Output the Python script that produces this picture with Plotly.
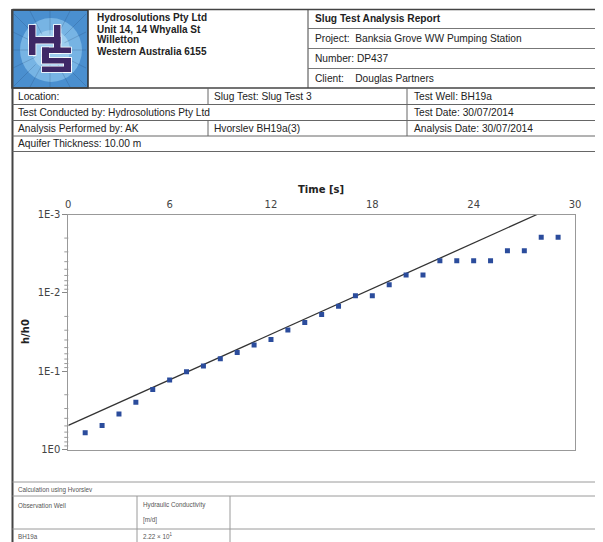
import math
import plotly.graph_objects as go

# ---------------- data ----------------
time_s = list(range(1, 30))
h_ratio = [0.612, 0.494, 0.352, 0.249, 0.172, 0.130, 0.1016, 0.0861, 0.0693, 0.0577,
           0.0465, 0.0394, 0.0299, 0.0239, 0.0189, 0.0148, 0.0109, 0.0109, 0.0079, 0.0059,
           0.0059, 0.0039, 0.0039, 0.0039, 0.0039, 0.0029, 0.0029, 0.00195, 0.00195]
fit_time = [0, 27.75]
fit_h = [0.493, 0.001]
x_ticks = [0, 6, 12, 18, 24, 30]
y_tickvals = [0.001, 0.01, 0.1, 1]
y_ticktext = ["1E-3", "1E-2", "1E-1", "1E0"]

W, H = 603, 542
OFF = 8  # page body margin offset

# plot-area pixel box
PL, PR, PT, PB = 68.3, 575, 214.5, 449.5


def X(px):
    return (px - OFF) / W


def Y(py):
    return 1 - (py - OFF) / H


shapes = []
annotations = []


def line(x0, y0, x1, y1, color="#555", width=1):
    shapes.append(dict(type="line", xref="paper", yref="paper",
                       x0=X(x0), y0=Y(y0), x1=X(x1), y1=Y(y1),
                       line=dict(color=color, width=width), layer="above"))


def rect(x0, y0, x1, y1, fill, lc=None, lw=0, layer="above"):
    shapes.append(dict(type="rect", xref="paper", yref="paper",
                       x0=X(x0), y0=Y(y0), x1=X(x1), y1=Y(y1),
                       fillcolor=fill, line=dict(color=lc or fill, width=lw), layer=layer))


def text(x, y, s, size=10, bold=False, color="#222", anchor="left",
         family="Liberation Sans, Arial, sans-serif", angle=0):
    annotations.append(dict(xref="paper", yref="paper", x=X(x), y=Y(y),
                            text=f"<b>{s}</b>" if bold else s, showarrow=False,
                            xanchor=anchor, yanchor="middle", textangle=angle,
                            font=dict(size=size, color=color, family=family)))


# ---------------- logo ----------------
rect(12, 10, 88, 88, "#4a8fcf", "#2b2b2b", 1.5)
shapes.append(dict(type="circle", xref="paper", yref="paper",
                   x0=X(20), y0=Y(18), x1=X(82), y1=Y(82),
                   fillcolor="rgba(150,205,242,0.6)", line=dict(width=0), layer="above"))
shapes.append(dict(type="circle", xref="paper", yref="paper",
                   x0=X(32), y0=Y(30), x1=X(70), y1=Y(70),
                   fillcolor="rgba(195,230,250,0.5)", line=dict(width=0), layer="above"))
cx, cy = 50, 50
for ex, ey in [(14, 14), (30, 11), (50, 11), (70, 11), (86, 14), (86, 32), (86, 50),
               (86, 68), (86, 86), (70, 87), (50, 87), (30, 87), (14, 86), (13, 68),
               (13, 50), (13, 32)]:
    line(cx + (ex - cx) * 0.4, cy + (ey - cy) * 0.4, ex, ey,
         "rgba(30,60,100,0.35)", 0.6)
letter_bars = [(29, 25, 35.5, 55), (54, 25, 60.5, 53), (29, 37, 60.5, 43.5),
               (42, 47.5, 71, 53), (42, 47.5, 49, 63), (42, 58, 71, 63.5),
               (64, 58, 71, 72), (42, 66.5, 71, 72)]
for (a, b, c, d) in letter_bars:
    rect(a - 0.8, b - 0.8, c + 0.8, d + 0.8, "#ffffff")
for (a, b, c, d) in letter_bars:
    rect(a, b, c, d, "#3e2866")

# ---------------- header table lines ----------------
dark = "#444"
line(12.5, 9.5, 603, 9.5, dark, 1.5)
line(12.5, 9, 12.5, 542, dark, 2)
line(308, 9.5, 308, 88, dark, 1)
for yy in [28.5, 48.5, 68.5]:
    line(308, yy, 603, yy, "#777", 1)
line(12.5, 88, 603, 88, dark, 1.5)
for yy in [104.5, 120.5, 136, 151.5]:
    line(12.5, yy, 603, yy, "#666", 1)
line(208, 88, 208, 104.5, "#666", 1)
line(208, 120.5, 208, 136, "#666", 1)
line(407, 88, 407, 136, "#666", 1)

# bottom table lines
light = "#9a9a9a"
line(12.5, 482, 603, 482, light, 1)
line(12.5, 496, 603, 496, light, 1)
line(12.5, 529, 603, 529, light, 1)
line(137, 496, 137, 542, light, 1)
line(230, 496, 230, 542, light, 1)

# ---------------- header texts ----------------
text(95, 18, "Hydrosolutions Pty Ltd", 10, True)
text(95, 29, "Unit 14, 14 Whyalla St", 10, True)
text(95, 40, "Willetton", 10, True)
text(95, 51, "Western Australia 6155", 10, True)

text(313, 19, "Slug Test Analysis Report", 10.2, True)
text(313, 38.5, "Project:  Banksia Grove WW Pumping Station", 10.2)
text(313, 58.5, "Number: DP437", 10.2)
text(313, 78, "Client:    Douglas Partners", 10.2)

text(16, 96.5, "Location:", 10.2)
text(212, 96.5, "Slug Test: Slug Test 3", 10.2)
text(412, 96.5, "Test Well: BH19a", 10.2)
text(16, 112.5, "Test Conducted by: Hydrosolutions Pty Ltd", 10.2)
text(412, 112.5, "Test Date: 30/07/2014", 10.2)
text(16, 128.5, "Analysis Performed by: AK", 10.2)
text(212, 128.5, "Hvorslev BH19a(3)", 10.2)
text(412, 128.5, "Analysis Date: 30/07/2014", 10.2)
text(16, 144, "Aquifer Thickness: 10.00 m", 10.2)

# bottom table texts
small = "#555"
text(16, 489.5, "Calculation using Hvorslev", 6.3, color=small)
text(16, 505, "Observation Well", 6.3, color=small)
text(141, 505, "Hydraulic Conductivity", 6.3, color=small)
text(141, 519.5, "[m/d]", 6.3, color=small)
text(16, 536.5, "BH19a", 6.3, color=small)
text(141, 536, "2.22 × 10<sup>1</sup>", 6.3, color=small)

# chart titles
text(321, 189, "Time [s]", 10, True, "#222", "center", "DejaVu Sans, Verdana, sans-serif")
text(25, 332, "h/h0", 10, True, "#222", "center", "DejaVu Sans, Verdana, sans-serif", -90)

# minor log ticks on the left axis (decoration of the axis, mapped from its range)
ylog_bottom, ylog_top = 0.0, -3.0
for e in range(-3, 0):
    for m in range(2, 10):
        lv = math.log10(m * 10 ** e)
        py = PB + (lv - ylog_bottom) / (ylog_top - ylog_bottom) * (PT - PB)
        line(PL - 4, py, PL, py, "#999", 1)

# ---------------- chart ----------------
fig = go.Figure()
fig.add_trace(go.Scatter(x=fit_time, y=fit_h, mode="lines",
                         line=dict(color="#333333", width=1.3), showlegend=False,
                         hoverinfo="skip"))
fig.add_trace(go.Scatter(x=time_s, y=h_ratio, mode="markers",
                         marker=dict(symbol="square", size=5, color="#2b4c9c"),
                         showlegend=False))

fig.update_layout(
    width=W, height=H,
    margin=dict(l=0, r=0, t=0, b=0, autoexpand=False),
    paper_bgcolor="white", plot_bgcolor="white",
    shapes=shapes, annotations=annotations,
    xaxis=dict(domain=[X(PL), X(PR)], range=[0, 30], side="top",
               tickvals=x_ticks, ticks="", showgrid=False, zeroline=False,
               showline=True, linecolor="#999", linewidth=1, mirror=True,
               automargin=False,
               tickfont=dict(family="DejaVu Sans, Verdana, sans-serif", size=10, color="#444"),
               ticklabelstandoff=2),
    yaxis=dict(domain=[Y(PB), Y(PT)], type="log", range=[ylog_bottom, ylog_top],
               tickmode="array", tickvals=y_tickvals, ticktext=y_ticktext,
               ticks="outside", ticklen=5, tickcolor="#888", automargin=False,
               showgrid=False, zeroline=False,
               showline=True, linecolor="#999", linewidth=1, mirror=True,
               tickfont=dict(family="DejaVu Sans, Verdana, sans-serif", size=10, color="#444")),
)

fig.write_html("out.html")
